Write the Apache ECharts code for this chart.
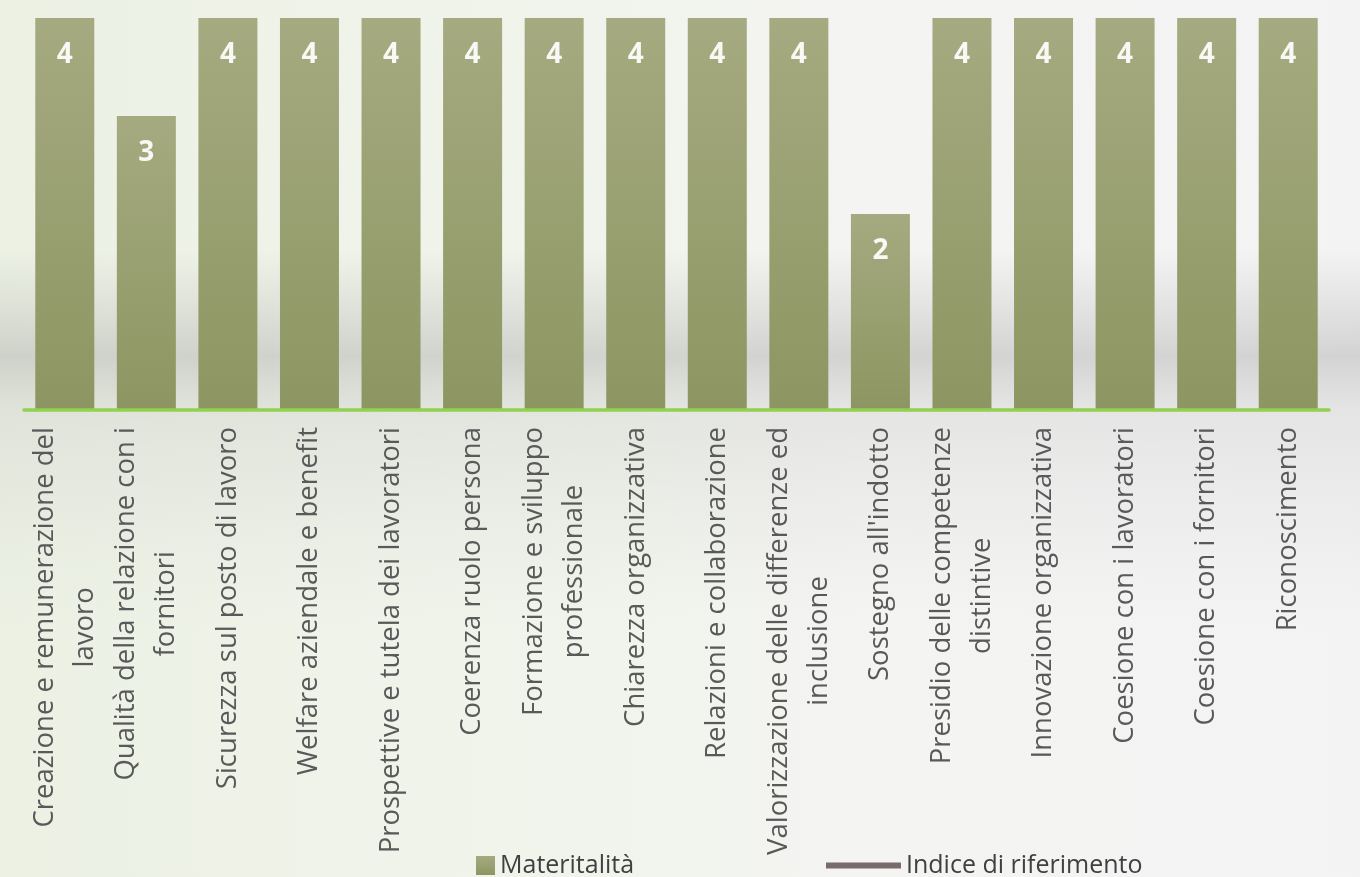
<!DOCTYPE html>
<html>
<head>
<meta charset="utf-8">
<script src="https://cdn.jsdelivr.net/npm/echarts@6/dist/echarts.min.js"></script>
<style>
html,body{margin:0;padding:0;background:#f4f4f4;}
#chart{width:1360px;height:877px;}
</style>
</head>
<body>
<div id="chart"></div>
<script>
// ---- data ----
const categories = [
  'Creazione e remunerazione del\nlavoro',
  'Qualità della relazione con i\nfornitori',
  'Sicurezza sul posto di lavoro',
  'Welfare aziendale e benefit',
  'Prospettive e tutela dei lavoratori',
  'Coerenza ruolo persona',
  'Formazione e sviluppo\nprofessionale',
  'Chiarezza organizzativa',
  'Relazioni e collaborazione',
  'Valorizzazione delle differenze ed\ninclusione',
  "Sostegno all'indotto",
  'Presidio delle competenze\ndistintive',
  'Innovazione organizzativa',
  'Coesione con i lavoratori',
  'Coesione con i fornitori',
  'Riconoscimento'
];
const materialitaValues = [4, 3, 4, 4, 4, 4, 4, 4, 4, 4, 2, 4, 4, 4, 4, 4];
const indiceValues = [];
const seriesNames = ['Materitalità', 'Indice di riferimento'];

const chart = echarts.init(document.getElementById('chart'), null, {renderer: 'canvas'});
const font = 'Open Sans';

const option = {
  backgroundColor: {
    type: 'linear', x: 0, y: 0, x2: 1, y2: 0,
    colorStops: [
      {offset: 0, color: '#ecf1e4'},
      {offset: 0.45, color: '#f1f4ec'},
      {offset: 0.65, color: '#f4f4f3'},
      {offset: 1, color: '#f3f3f3'}
    ]
  },
  animation: false,
  graphic: [
    {
      type: 'rect', z: -10, silent: true,
      shape: {x: 0, y: 250, width: 1360, height: 380},
      style: {
        fill: {
          type: 'linear', x: 0, y: 0, x2: 0, y2: 1,
          colorStops: [
            {offset: 0, color: 'rgba(160,160,160,0)'},
            {offset: 0.28, color: 'rgba(150,150,150,0.35)'},
            {offset: 0.42, color: 'rgba(170,170,170,0.2)'},
            {offset: 0.7, color: 'rgba(200,200,200,0.15)'},
            {offset: 1, color: 'rgba(220,220,220,0)'}
          ]
        }
      }
    }
  ],
  grid: {left: 24, right: 31, top: 18, bottom: 467, containLabel: false},
  xAxis: {
    type: 'category',
    data: categories,
    z: 5,
    axisLine: {show: true, lineStyle: {color: '#92d050', width: 3.5}},
    axisTick: {show: false},
    splitLine: {show: false},
    axisLabel: {
      interval: 0,
      rotate: 90,
      margin: 17,
      formatter: function (v) {
        return v.split('\n').map(function (s) { return '{c|' + s + '}'; }).join('\n');
      },
      rich: {
        c: {align: 'center', fontFamily: font, fontSize: 27.5, lineHeight: 40, color: '#595959'}
      }
    }
  },
  yAxis: {
    type: 'value', min: 0, max: 4, interval: 1,
    show: false,
    splitLine: {show: false}
  },
  legend: [
    {
      data: [seriesNames[0]],
      left: 471, top: 848,
      icon: 'rect', itemWidth: 19, itemHeight: 19,
      textStyle: {fontFamily: font, fontSize: 25, color: '#404040'}
    },
    {
      data: [seriesNames[1]],
      left: 821, top: 848,
      icon: 'rect', itemWidth: 75, itemHeight: 6,
      itemStyle: {color: '#776b6b'},
      textStyle: {fontFamily: font, fontSize: 25, color: '#404040'}
    }
  ],
  series: [
    {
      name: seriesNames[0],
      type: 'bar',
      data: materialitaValues,
      barWidth: 59,
      itemStyle: {
        color: {
          type: 'linear', x: 0, y: 0, x2: 0, y2: 1,
          colorStops: [
            {offset: 0, color: '#a5aa80'},
            {offset: 1, color: '#8d9662'}
          ]
        }
      },
      label: {
        show: true,
        position: 'insideTop',
        distance: 23,
        color: '#f8f8f4',
        fontFamily: font,
        fontWeight: 'bold',
        fontSize: 28
      }
    },
    {
      name: seriesNames[1],
      type: 'line',
      data: indiceValues,
      color: '#776b6b',
      lineStyle: {color: '#776b6b', width: 5},
      symbol: 'none'
    }
  ]
};
chart.setOption(option);
</script>
</body>
</html>
